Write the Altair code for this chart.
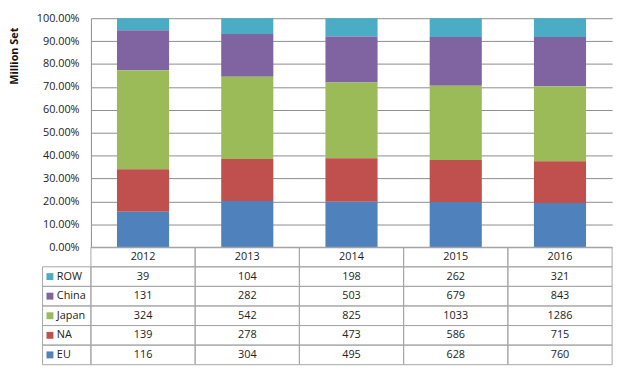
import altair as alt
import pandas as pd

years = ["2012", "2013", "2014", "2015", "2016"]
regions = ["ROW", "China", "Japan", "NA", "EU"]  # table order, top to bottom
ROW = [39, 104, 198, 262, 321]
China = [131, 282, 503, 679, 843]
Japan = [324, 542, 825, 1033, 1286]
NA = [139, 278, 473, 586, 715]
EU = [116, 304, 495, 628, 760]
colors = ["#4BACC6", "#8064A2", "#9BBB59", "#C0504D", "#4F81BD"]
y_ticks = [0, 0.1, 0.2, 0.3, 0.4, 0.5, 0.6, 0.7, 0.8, 0.9, 1.0]
header_key = "Year"

series = {"ROW": ROW, "China": China, "Japan": Japan, "NA": NA, "EU": EU}
records = []
for r_i, reg in enumerate(regions):
    for y_i, yr in enumerate(years):
        records.append({"year": yr, "region": reg, "value": series[reg][y_i],
                        "stack": len(regions) - 1 - r_i})
df = pd.DataFrame(records)
hdr = pd.DataFrame({"year": years, "region": [header_key] * len(years), "label": years})
cells = pd.concat([hdr[["year", "region"]], df[["year", "region"]]], ignore_index=True)
legend_df = pd.DataFrame({"region": regions, "col": ["legend"] * len(regions)})
row_domain = [header_key] + regions

GRID = "#8c8c8c"
LINE = "#a6a6a6"
TXT = "#222222"
FONT = "Open Sans"

x_year = alt.X("year:N", scale=alt.Scale(domain=years, paddingInner=0, paddingOuter=0), axis=None)
color = alt.Color("region:N", scale=alt.Scale(domain=regions, range=colors), legend=None)
y_row = alt.Y("region:N", scale=alt.Scale(domain=row_domain, range=[232, 351],
                                          paddingInner=0, paddingOuter=0), axis=None)
x_leg = alt.X("col:N", scale=alt.Scale(domain=["legend"], range=[-49, 0],
                                       paddingInner=0, paddingOuter=0), axis=None)

bars = alt.Chart(df).mark_bar(width=alt.RelativeBandSize(0.5)).encode(
    x=x_year,
    y=alt.Y("value:Q", stack="normalize",
            scale=alt.Scale(domain=[0, 1], range=[232, 0]),
            axis=alt.Axis(values=y_ticks,
                          labelExpr="format(datum.value * 100, '.2f') + '%'",
                          title="Million Set",
                          grid=True, gridColor=GRID, domain=True, domainColor=GRID,
                          tickSize=0, labelPadding=12, labelFont=FONT, labelFontSize=11,
                          labelColor=TXT, titleFont=FONT, titleFontSize=11,
                          titleFontWeight="bold", titleColor="#111111", titleAngle=270,
                          titleX=-77.5, titleY=38, titleAlign="center",
                          titleBaseline="middle")),
    color=color,
    order=alt.Order("stack:Q", sort="ascending"),
)

cell_rects = alt.Chart(cells).mark_rect(filled=False, stroke=LINE, strokeWidth=1).encode(
    x=x_year, y=y_row)
value_text = alt.Chart(df).mark_text(font=FONT, fontSize=11, color=TXT, baseline="middle").encode(
    x=x_year, y=y_row, text="value:Q")
hdr_text = alt.Chart(hdr).mark_text(font=FONT, fontSize=11, color=TXT, baseline="middle").encode(
    x=x_year, y=y_row, text="label:N")

leg_rects = alt.Chart(legend_df).mark_rect(filled=False, stroke=LINE, strokeWidth=1).encode(
    x=x_leg, y=y_row)
leg_sq = alt.Chart(legend_df).mark_square(size=49, filled=True, opacity=1, xOffset=-17).encode(
    x=x_leg, y=y_row, color=color)
leg_text = alt.Chart(legend_df).mark_text(font=FONT, fontSize=11, color=TXT, align="left",
                                          baseline="middle", dx=-10).encode(
    x=x_leg, y=y_row, text="region:N")

year_table = alt.layer(cell_rects, value_text, hdr_text)
legend_table = alt.layer(leg_rects, leg_sq, leg_text)
table = alt.layer(year_table, legend_table).resolve_scale(x="independent")

chart = alt.layer(bars, table).resolve_scale(x="independent", y="independent").properties(
    width=528, height=351,
    autosize=alt.AutoSizeParams(type="none"),
    padding={"left": 84, "top": 8, "right": 8, "bottom": 1},
).configure_view(strokeWidth=0)

chart.save("out.html", embed_options={"renderer": "svg", "actions": False})
